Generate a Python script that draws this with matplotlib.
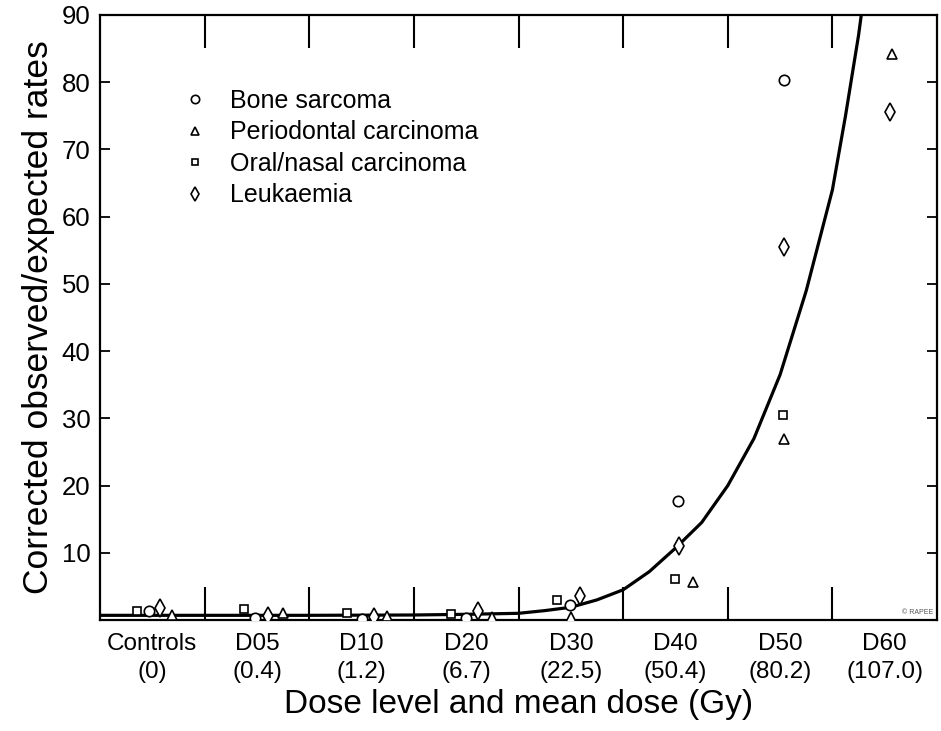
import matplotlib
matplotlib.use("Agg")
import matplotlib.pyplot as plt
from matplotlib.ticker import FixedLocator

plt.rcParams['font.family'] = ['Liberation Sans', 'DejaVu Sans']

categories = ["Controls", "D05", "D10", "D20", "D30", "D40", "D50", "D60"]
mean_doses = ["(0)", "(0.4)", "(1.2)", "(6.7)", "(22.5)", "(50.4)", "(80.2)", "(107.0)"]

# points (x in category units, small offsets within a group)
bone_x = [-0.03, 0.98, 2.0, 3.0, 3.99, 5.02, 6.04]
bone_y = [1.3, 0.3, 0.2, 0.3, 2.2, 17.7, 80.3]
perio_x = [0.19, 1.25, 2.24, 3.25, 4.0, 5.17, 6.04, 7.07]
perio_y = [0.7, 1.0, 0.6, 0.5, 0.5, 5.6, 27.0, 84.2]
oral_x = [-0.15, 0.88, 1.86, 2.85, 3.87, 5.0, 6.03]
oral_y = [1.3, 1.6, 1.0, 0.9, 3.0, 6.1, 30.5]
leuk_x = [0.07, 1.11, 2.12, 3.11, 4.09, 5.03, 6.04, 7.05]
leuk_y = [1.8, 0.6, 0.45, 1.3, 3.6, 11.0, 55.5, 75.5]

# fitted curve
curve_x = [-0.5, 0.5, 1.5, 2.5, 3.0, 3.5, 3.75, 4.0, 4.25, 4.5, 4.75, 5.0,
           5.25, 5.5, 5.75, 6.0, 6.25, 6.5, 6.625, 6.75, 6.78]
curve_y = [0.7, 0.7, 0.7, 0.75, 0.85, 1.0, 1.4, 1.9, 3.0, 4.5, 7.2, 10.7,
           14.5, 20.0, 27.0, 36.5, 49.0, 64.0, 75.0, 87.0, 90.5]

fig = plt.figure(figsize=(9.41, 7.31), dpi=100)
ax = fig.add_axes([0.1063, 0.1518, 0.8895, 0.8277])

ax.plot(curve_x, curve_y, color='black', linewidth=2.3, zorder=2)

mk = dict(linestyle='none', markerfacecolor='white', markeredgecolor='black',
          markeredgewidth=1.2, zorder=3)
ax.plot(bone_x, bone_y, marker='o', markersize=7.5, label="Bone sarcoma", **mk)
ax.plot(perio_x, perio_y, marker='^', markersize=6.5, label="Periodontal carcinoma", **mk)
ax.plot(oral_x, oral_y, marker='s', markersize=6, label="Oral/nasal carcinoma", **mk)
ax.plot(leuk_x, leuk_y, marker='d', markersize=9, label="Leukaemia", **mk)

ax.set_xlim(-0.5, 7.5)
ax.set_ylim(0, 90)

ax.set_xticks(range(len(categories)))
ax.set_xticklabels([c + "\n" + d for c, d in zip(categories, mean_doses)],
                   fontsize=17.5, linespacing=1.4)
ax.xaxis.set_minor_locator(FixedLocator([i + 0.5 for i in range(7)]))
ax.tick_params(axis='x', which='major', length=0, pad=9)
ax.tick_params(axis='x', which='minor', direction='in', length=24, width=1.5,
               top=True, bottom=True)

ax.set_yticks([10, 20, 30, 40, 50, 60, 70, 80, 90])
ax.tick_params(axis='y', which='major', direction='in', length=7, width=1.3,
               left=True, right=True, labelsize=18.5, pad=7)

for s in ax.spines.values():
    s.set_linewidth(1.6)

ax.set_xlabel("Dose level and mean dose (Gy)", fontsize=24, labelpad=4)
ax.set_ylabel("Corrected observed/expected rates", fontsize=25.5, labelpad=5)

leg = ax.legend(loc='upper left', bbox_to_anchor=(0.072, 0.915), frameon=False,
                fontsize=18, markerscale=0.8, handlelength=1.0,
                handletextpad=0.9, labelspacing=0.3)

ax.text(0.995, 0.006, "\u00a9 RAPEE", transform=ax.transAxes, fontsize=5,
        color='#555555', ha='right', va='bottom')

fig.savefig("out.png", dpi=100)
